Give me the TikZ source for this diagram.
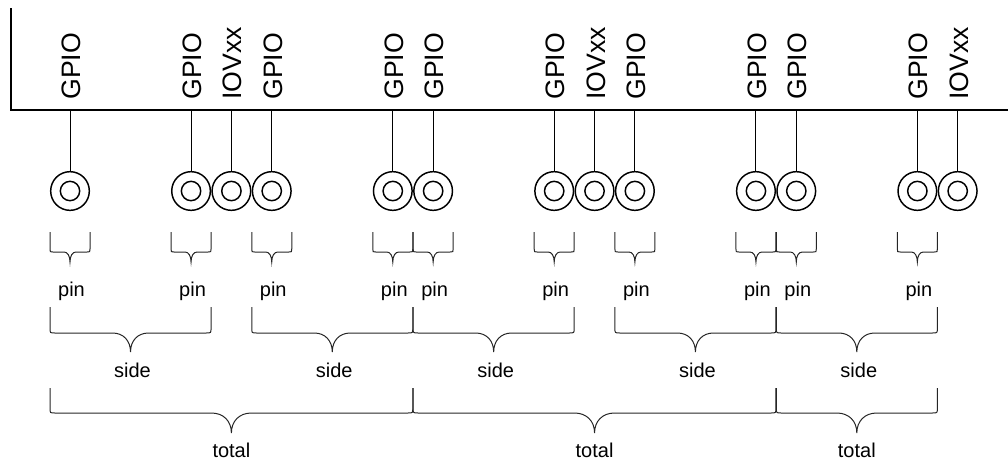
\documentclass[tikz,border=0pt]{standalone}
\usepackage{fontspec}
\setmainfont{Liberation Sans}
% curly brace: left, right, top, bar, tip, half width of tip, corner
\newcommand{\spanbrace}[7]{%
  \pgfmathsetmacro{\bracemid}{(#1+#2)/2}
  \pgfmathsetmacro{\bracectl}{#4+0.4*(#5-#4)}
  \draw[bracestyle] (#1,#3) -- (#1,#4-#7) .. controls (#1,#4) .. (#1+#7,#4)
    -- (\bracemid-#6,#4) .. controls (\bracemid-0.4*#6,#4) and (\bracemid,\bracectl) .. (\bracemid,#5)
    .. controls (\bracemid,\bracectl) and (\bracemid+0.4*#6,#4) .. (\bracemid+#6,#4)
    -- (#2-#7,#4) .. controls (#2,#4) .. (#2,#4-#7) -- (#2,#3);
}
\begin{document}
\begin{tikzpicture}
[x=0.75pt,y=-0.75pt,%
 boardstyle/.style={line width=1.5pt},%
 wirestyle/.style={line width=0.75pt},%
 padstyle/.style={circle,draw,line width=1.1pt,minimum size=29pt,inner sep=0pt},%
 holestyle/.style={circle,draw,line width=1.1pt,minimum size=14.5pt,inner sep=0pt},%
 sigstyle/.style={rotate=90,anchor=base west,inner sep=0pt,font=\fontsize{20pt}{24pt}\selectfont},%
 notestyle/.style={anchor=base,inner sep=0pt,font=\fontsize{15pt}{18pt}\selectfont},%
 bracestyle/.style={line width=0.75pt,black!85}]
\useasboundingbox (0,0) rectangle (1008,462);
%% chip edge
\draw[boardstyle] (11,8) -- (11,110) -- (1008,110);
%% pads, signals and wires
\foreach \k/\sig [count=\i] in {0/GPIO,3/GPIO,4/IOVxx,5/GPIO,8/GPIO,9/GPIO,12/GPIO,13/IOVxx,14/GPIO,17/GPIO,18/GPIO,21/GPIO,22/IOVxx}{
  \pgfmathsetmacro{\padx}{70+40.35*\k}
  \node[padstyle] (pad\i) at (\padx,191) {};
  \node[holestyle] (hole\i) at (pad\i) {};
  \coordinate (tap\i) at (\padx,110);
  \node[sigstyle] (sig\i) at (\padx+10.5,100) {\sig};
  \draw[wirestyle] (tap\i) -- (pad\i);
}
%% pin braces
\foreach \k in {0,3,5,8,9,12,14,17,18,21}{
  \pgfmathsetmacro{\padx}{70+40.35*\k}
  \spanbrace{\padx-20}{\padx+20}{232}{252}{262}{6}{3}
  \node[notestyle] (pin\k) at (\padx+1.5,296) {pin};
}
%% side braces
\foreach \a/\b [count=\i] in {0/3,5/8,9/12,14/17,18/21}{
  \pgfmathsetmacro{\lft}{70+40.35*\a-20}
  \pgfmathsetmacro{\rgt}{70+40.35*\b+20}
  \spanbrace{\lft}{\rgt}{307}{333}{352}{18}{5}
  \node[notestyle] (side\i) at (\bracemid+2,377) {side};
}
%% total braces
\foreach \a/\b [count=\i] in {0/8,9/17,18/21}{
  \pgfmathsetmacro{\lft}{70+40.35*\a-20}
  \pgfmathsetmacro{\rgt}{70+40.35*\b+20}
  \spanbrace{\lft}{\rgt}{388}{413}{433}{20}{5}
  \node[notestyle] (total\i) at (\bracemid,457) {total};
}
\end{tikzpicture}
\end{document}
